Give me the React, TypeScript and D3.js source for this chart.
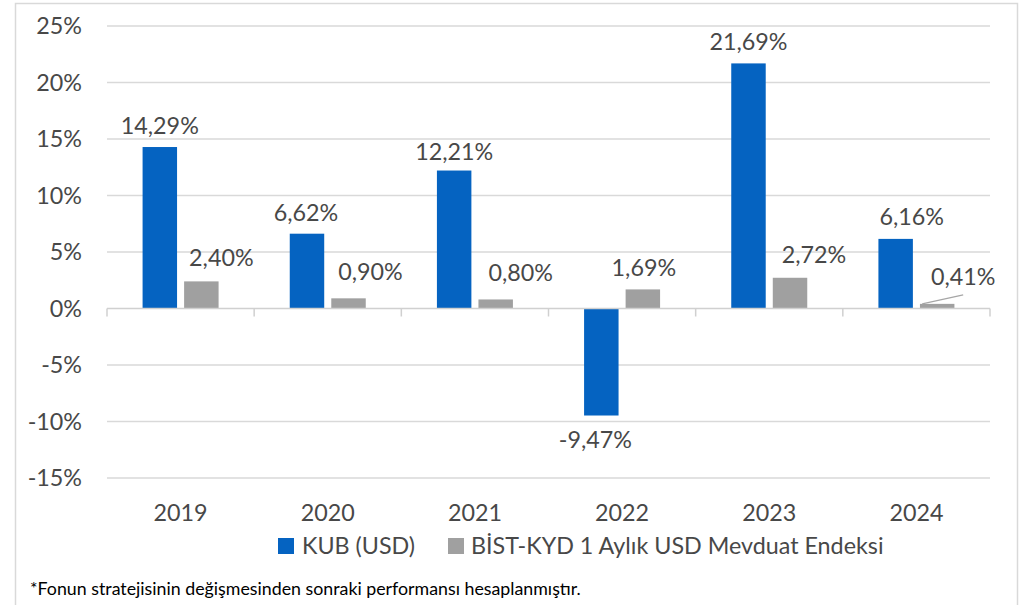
import React from "react";
import * as d3 from "d3";

const years = ["2019", "2020", "2021", "2022", "2023", "2024"];
const seriesNames = ["KUB (USD)", "BİST-KYD 1 Aylık USD Mevduat Endeksi"];
const kub = [14.29, 6.62, 12.21, -9.47, 21.69, 6.16];
const bist = [2.4, 0.9, 0.8, 1.69, 2.72, 0.41];
const yTicks = [25, 20, 15, 10, 5, 0, -5, -10, -15];
const footnote = "*Fonun stratejisinin değişmesinden sonraki performansı hesaplanmıştır.";

// label placement tweaks (layout, not data)
const kubLabelDx = [0, -1, 0, -6, 0, 16];
const kubLabelDy = [-13, -13, -11, 32, -13, -14];
const bistLabelDx = [20, 22, 25, 1, 24, 26];
const bistLabelDy = [-15, -18, -18, -13, -15, -19];

const colors = ["#0563C1", "#A0A0A0"];
const font = "Lato, 'Open Sans', sans-serif";
const textColor = "#484848";

const fmt = (v: number) => v.toFixed(2).replace(".", ",") + "%";

export default function App() {
  const W = 1032, H = 605;
  const left = 107, right = 990;
  const y = d3.scaleLinear().domain([-15, 25]).range([478, 26]);
  const x0 = d3.scaleBand<string>().domain(years).range([left, right]).padding(0);
  const groupW = 76;
  const x1 = d3.scaleBand<number>().domain([0, 1]).range([0, groupW]).paddingInner(0.17);
  const groupOff = (x0.bandwidth() - groupW) / 2;
  const bw = x1.bandwidth();
  const series = [kub, bist];
  const dxs = [kubLabelDx, bistLabelDx];
  const dys = [kubLabelDy, bistLabelDy];
  const fs = 23.3;

  return (
    <svg width={W} height={H} style={{ position: "absolute", left: 0, top: 0, background: "#fff" }}
      fontFamily={font}>
      <rect x={0} y={0} width={W} height={H} fill="#fff" />
      <path d={`M15.5,${H} V3.5 H1017.5 V${H}`} fill="none" stroke="#D9D9D9" strokeWidth={1.5} />
      {yTicks.map((t) => (
        <g key={t}>
          {t !== 0 && (
            <line x1={left} x2={right} y1={y(t)} y2={y(t)} stroke="#D9D9D9" strokeWidth={1.5} />
          )}
          <text x={82} y={y(t)} dy="0.36em" textAnchor="end" fontSize={fs} fill={textColor}>
            {t}%
          </text>
        </g>
      ))}
      {series.map((vals, si) =>
        vals.map((v, i) => {
          const bx = (x0(years[i]) as number) + groupOff + (x1(si) as number);
          const y0 = y(0), yv = y(v);
          return (
            <rect key={`b${si}-${i}`} x={bx} width={bw} y={Math.min(y0, yv)}
              height={Math.abs(yv - y0)} fill={colors[si]} />
          );
        })
      )}
      <line x1={left} x2={right} y1={y(0)} y2={y(0)} stroke="#D0D0D0" strokeWidth={1.5} />
      {d3.range(years.length + 1).map((i) => {
        const tx = left + i * x0.step();
        return <line key={`t${i}`} x1={tx} x2={tx} y1={y(0)} y2={y(0) + 8} stroke="#D0D0D0" strokeWidth={1.5} />;
      })}
      {series.map((vals, si) =>
        vals.map((v, i) => {
          const cx = (x0(years[i]) as number) + groupOff + (x1(si) as number) + bw / 2;
          const edge = y(v);
          return (
            <text key={`l${si}-${i}`} x={cx + dxs[si][i]} y={edge + dys[si][i]} textAnchor="middle"
              fontSize={fs} fill={textColor}>
              {fmt(v)}
            </text>
          );
        })
      )}
      {(() => {
        const cx = (x0(years[5]) as number) + groupOff + (x1(1) as number) + bw / 2;
        const ty = y(bist[5]);
        return <line x1={cx - 15} y1={ty} x2={cx + 26} y2={ty - 9} stroke="#A6A6A6" strokeWidth={1.2} />;
      })()}
      {years.map((yr) => (
        <text key={yr} x={(x0(yr) as number) + x0.bandwidth() / 2} y={521} textAnchor="middle"
          fontSize={fs} fill={textColor}>
          {yr}
        </text>
      ))}
      <g>
        <rect x={278} y={538} width={16} height={16} fill={colors[0]} />
        <text x={302} y={554} fontSize={fs} fill={textColor}>{seriesNames[0]}</text>
        <rect x={448} y={538} width={16} height={16} fill={colors[1]} />
        <text x={471} y={554} fontSize={fs} fill={textColor}>{seriesNames[1]}</text>
      </g>
      <text x={30} y={595} fontSize={17.8} fill="#000">{footnote}</text>
    </svg>
  );
}
